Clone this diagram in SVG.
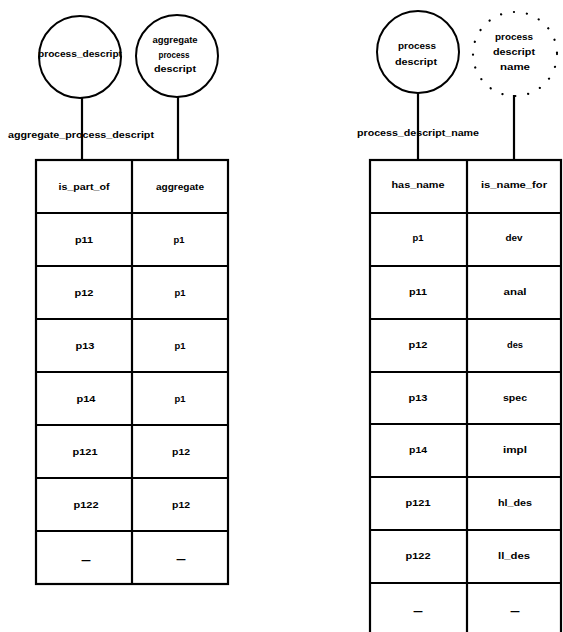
<svg xmlns="http://www.w3.org/2000/svg" width="563" height="632" viewBox="0 0 563 632">
<style>
  .bg { fill: #ffffff; }
  .node { fill: none; stroke: #000; stroke-width: 2; }
  .dotted { fill: none; stroke: #000; stroke-width: 2.2; stroke-linecap: round; stroke-dasharray: 0.1 13; }
  .grid { fill: none; stroke: #000; stroke-width: 2.2; }
  .conn { stroke: #000; stroke-width: 2.2; fill: none; }
  text { font-family: "Liberation Sans", Arial, sans-serif; font-weight: bold; font-size: 9px; fill: #000; text-anchor: middle; dominant-baseline: central; }
  .dash { font-size: 11px; }
</style>
<rect class="bg" x="0" y="0" width="563" height="632"/>

<g id="connectors">
  <line class="conn" x1="82" y1="98" x2="82" y2="160"/>
  <line class="conn" x1="178" y1="97" x2="178" y2="160"/>
  <line class="conn" x1="418" y1="93" x2="418" y2="160"/>
  <line class="conn" x1="514" y1="95" x2="514" y2="160"/>
  <text x="81" y="135" textLength="146" lengthAdjust="spacingAndGlyphs">aggregate_process_descript</text>
  <text x="418" y="133" textLength="122" lengthAdjust="spacingAndGlyphs">process_descript_name</text>
</g>

<g id="node-process-descript-left">
  <circle class="node" cx="80" cy="57" r="41"/>
  <text x="80" y="54" textLength="84" lengthAdjust="spacingAndGlyphs">process_descript</text>
</g>

<g id="node-aggregate-process-descript">
  <circle class="node" cx="177" cy="56" r="41"/>
  <text x="175" y="40" textLength="45" lengthAdjust="spacingAndGlyphs">aggregate</text>
  <text x="174" y="55" textLength="31" lengthAdjust="spacingAndGlyphs">process</text>
  <text x="175" y="69" textLength="42" lengthAdjust="spacingAndGlyphs">descript</text>
</g>

<g id="node-process-descript-right">
  <circle class="node" cx="418" cy="52" r="41"/>
  <text x="417" y="46" textLength="38" lengthAdjust="spacingAndGlyphs">process</text>
  <text x="416" y="62" textLength="42" lengthAdjust="spacingAndGlyphs">descript</text>
</g>

<g id="node-process-descript-name">
  <circle class="dotted" cx="515" cy="54" r="42"/>
  <text x="514" y="37" textLength="38" lengthAdjust="spacingAndGlyphs">process</text>
  <text x="514" y="52" textLength="42" lengthAdjust="spacingAndGlyphs">descript</text>
  <text x="515" y="67" textLength="30" lengthAdjust="spacingAndGlyphs">name</text>
</g>

<g id="table-aggregate-process-descript">
  <rect class="grid" x="36" y="160" width="192" height="424"/>
  <line class="grid" x1="132" y1="160" x2="132" y2="584"/>
  <line class="grid" x1="36" y1="213" x2="228" y2="213"/>
  <line class="grid" x1="36" y1="266" x2="228" y2="266"/>
  <line class="grid" x1="36" y1="319" x2="228" y2="319"/>
  <line class="grid" x1="36" y1="372" x2="228" y2="372"/>
  <line class="grid" x1="36" y1="425" x2="228" y2="425"/>
  <line class="grid" x1="36" y1="478" x2="228" y2="478"/>
  <line class="grid" x1="36" y1="531" x2="228" y2="531"/>
  <text x="84" y="187" textLength="51" lengthAdjust="spacingAndGlyphs">is_part_of</text>
  <text x="180" y="187" textLength="48" lengthAdjust="spacingAndGlyphs">aggregate</text>
  <text x="84" y="240" textLength="18" lengthAdjust="spacingAndGlyphs">p11</text>
  <text x="179" y="240" textLength="11" lengthAdjust="spacingAndGlyphs">p1</text>
  <text x="84" y="293" textLength="19" lengthAdjust="spacingAndGlyphs">p12</text>
  <text x="180" y="293" textLength="11" lengthAdjust="spacingAndGlyphs">p1</text>
  <text x="85" y="346" textLength="19" lengthAdjust="spacingAndGlyphs">p13</text>
  <text x="180" y="346" textLength="11" lengthAdjust="spacingAndGlyphs">p1</text>
  <text x="86" y="399" textLength="19" lengthAdjust="spacingAndGlyphs">p14</text>
  <text x="180" y="399" textLength="11" lengthAdjust="spacingAndGlyphs">p1</text>
  <text x="85" y="452" textLength="25" lengthAdjust="spacingAndGlyphs">p121</text>
  <text x="181" y="452" textLength="18" lengthAdjust="spacingAndGlyphs">p12</text>
  <text x="86" y="505" textLength="25" lengthAdjust="spacingAndGlyphs">p122</text>
  <text x="181" y="505" textLength="18" lengthAdjust="spacingAndGlyphs">p12</text>
  <text class="dash" x="86" y="560" textLength="10" lengthAdjust="spacingAndGlyphs">–</text>
  <text class="dash" x="181" y="559" textLength="10" lengthAdjust="spacingAndGlyphs">–</text>
</g>

<g id="table-process-descript-name">
  <rect class="grid" x="370" y="160" width="191" height="480"/>
  <line class="grid" x1="467" y1="160" x2="467" y2="640"/>
  <line class="grid" x1="370" y1="213" x2="561" y2="213"/>
  <line class="grid" x1="370" y1="266" x2="561" y2="266"/>
  <line class="grid" x1="370" y1="319" x2="561" y2="319"/>
  <line class="grid" x1="370" y1="372" x2="561" y2="372"/>
  <line class="grid" x1="370" y1="424" x2="561" y2="424"/>
  <line class="grid" x1="370" y1="477" x2="561" y2="477"/>
  <line class="grid" x1="370" y1="530" x2="561" y2="530"/>
  <line class="grid" x1="370" y1="583" x2="561" y2="583"/>
  <text x="418" y="185" textLength="53" lengthAdjust="spacingAndGlyphs">has_name</text>
  <text x="514" y="185" textLength="66" lengthAdjust="spacingAndGlyphs">is_name_for</text>
  <text x="418" y="238" textLength="11" lengthAdjust="spacingAndGlyphs">p1</text>
  <text x="514" y="238" textLength="17" lengthAdjust="spacingAndGlyphs">dev</text>
  <text x="418" y="292" textLength="18" lengthAdjust="spacingAndGlyphs">p11</text>
  <text x="515" y="292" textLength="23" lengthAdjust="spacingAndGlyphs">anal</text>
  <text x="418" y="345" textLength="19" lengthAdjust="spacingAndGlyphs">p12</text>
  <text x="515" y="345" textLength="16" lengthAdjust="spacingAndGlyphs">des</text>
  <text x="418" y="398" textLength="19" lengthAdjust="spacingAndGlyphs">p13</text>
  <text x="515" y="398" textLength="24" lengthAdjust="spacingAndGlyphs">spec</text>
  <text x="418" y="450" textLength="18" lengthAdjust="spacingAndGlyphs">p14</text>
  <text x="515" y="450" textLength="24" lengthAdjust="spacingAndGlyphs">impl</text>
  <text x="418" y="503" textLength="25" lengthAdjust="spacingAndGlyphs">p121</text>
  <text x="515" y="503" textLength="34" lengthAdjust="spacingAndGlyphs">hl_des</text>
  <text x="418" y="556" textLength="25" lengthAdjust="spacingAndGlyphs">p122</text>
  <text x="514" y="556" textLength="32" lengthAdjust="spacingAndGlyphs">ll_des</text>
  <text class="dash" x="418" y="611" textLength="10" lengthAdjust="spacingAndGlyphs">–</text>
  <text class="dash" x="515" y="611" textLength="10" lengthAdjust="spacingAndGlyphs">–</text>
</g>
</svg>
